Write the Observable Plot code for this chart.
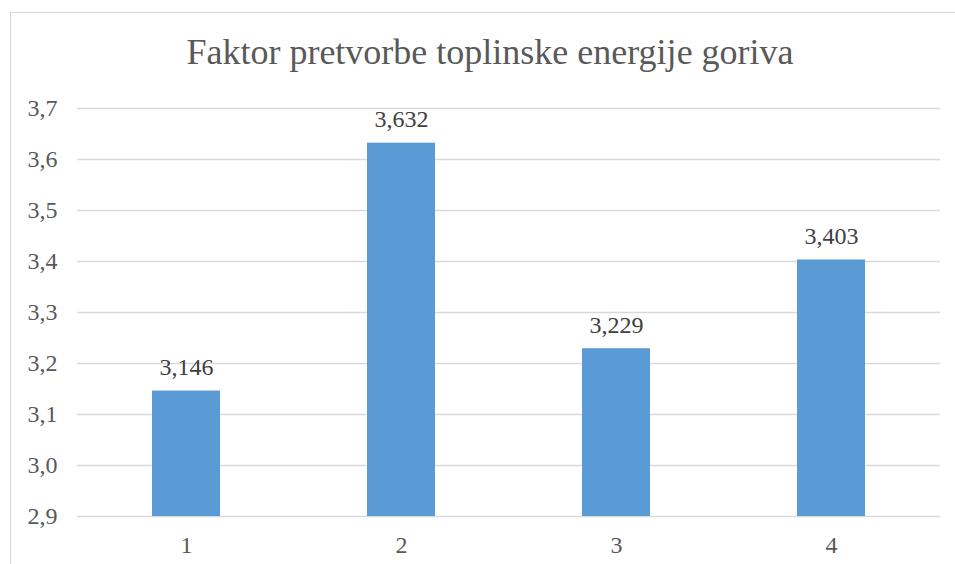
<!DOCTYPE html>
<html>
<head>
<meta charset="utf-8">
<script src="https://cdn.jsdelivr.net/npm/d3@7"></script>
<script src="https://cdn.jsdelivr.net/npm/@observablehq/plot@0.6"></script>
</head>
<body style="margin: 0; padding: 0; background: #fff;">
<div id="wrap" style="position: relative; width: 955px; height: 564px; overflow: hidden; font-family: 'Times New Roman', Tinos, serif;">
  <div id="frame" style="position: absolute; left: 10px; top: 12px; width: 1000px; height: 600px; border: 1px solid #d9d9d9; box-sizing: border-box;"></div>
  <div id="title" style="position: absolute; left: 0; top: 28px; width: 980px; text-align: center; font-family: 'Times New Roman', Tinos, serif; font-size: 36px; color: #595959; line-height: 48px; white-space: nowrap;">Faktor pretvorbe toplinske energije goriva</div>
  <div id="chart" style="position: absolute; left: 0; top: 0;"></div>
</div>
<script>
const categories = ["1", "2", "3", "4"];
const values = [3.146, 3.632, 3.229, 3.403];
const yTicks = [2.9, 3.0, 3.1, 3.2, 3.3, 3.4, 3.5, 3.6, 3.7];
const yMin = 2.9;
const yMax = 3.7;

const data = categories.map((c, i) => ({cat: c, value: values[i]}));
const fmt1 = v => v.toFixed(1).replace(".", ",");
const fmt3 = v => v.toFixed(3).replace(".", ",");
const FONT = "'Times New Roman', Tinos, serif";

const plot = Plot.plot({
  width: 955,
  height: 564,
  marginLeft: 77,
  marginRight: 15,
  marginTop: 108,
  marginBottom: 48,
  style: {fontFamily: FONT, fontSize: "24px", color: "#595959", background: "transparent"},
  x: {domain: categories, paddingInner: 0.684, paddingOuter: 0.342, label: null},
  y: {domain: [yMin, yMax], label: null},
  marks: [
    Plot.gridY(yTicks, {stroke: "#d9d9d9", strokeOpacity: 1, strokeWidth: 1.3}),
    Plot.axisY({ticks: yTicks, tickSize: 0, tickPadding: 20, tickFormat: fmt1, fill: "#595959", fontSize: 24, label: null}),
    Plot.axisX({tickSize: 0, tickPadding: 19, fill: "#595959", fontSize: 24, label: null}),
    Plot.barY(data, {x: "cat", y1: () => yMin, y2: "value", fill: "#5b9bd5"}),
    Plot.text(data, {x: "cat", y: "value", text: d => fmt3(d.value), lineAnchor: "bottom", dy: -16, fill: "#404040", fontSize: 24})
  ]
});
plot.querySelectorAll("text").forEach(el => el.setAttribute("font-family", FONT));
document.getElementById("chart").appendChild(plot);
</script>
</body>
</html>
